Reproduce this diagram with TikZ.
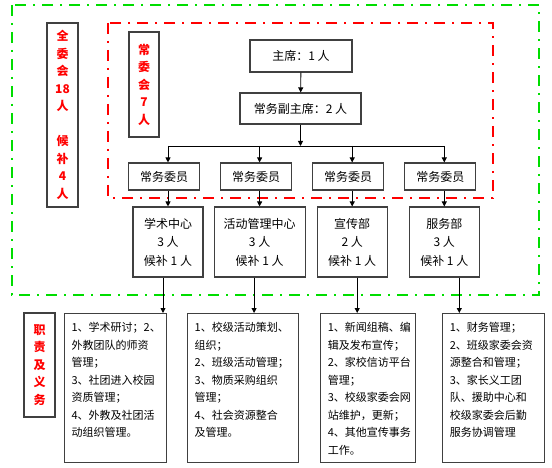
\documentclass[tikz,border=0pt]{standalone}
\usepackage{fontspec}
\setmainfont{Noto Sans CJK SC}
\usetikzlibrary{arrows.meta,positioning}
\definecolor{wkgreen}{HTML}{00DD00}
\definecolor{wkred}{HTML}{FF0000}
\definecolor{wkgrey}{HTML}{404040}

\begin{document}
\begin{tikzpicture}[x=1pt,y=-1pt,
  box/.style={draw=wkgrey,line width=1.1pt,align=center,
              font=\fontsize{12}{18.5}\selectfont,inner sep=2pt},
  vbox/.style={box,minimum width=31pt,text=wkred,
              font=\fontsize{12}{17.5}\selectfont\bfseries},
  duty/.style={draw=wkgrey,line width=1.1pt,align=left,anchor=north west,
              inner xsep=7pt,inner ysep=8pt,text height=10pt,text depth=123pt,
              font=\fontsize{11}{17.5}\selectfont},
  frame/.style={line width=2.5pt,dash pattern=on 11pt off 7pt on 2pt off 7pt},
  arr/.style={-{Triangle[length=5pt,width=5pt]},draw=black,line width=0.9pt},
  link/.style={draw=black,line width=0.9pt}]
\useasboundingbox (0,0) rectangle (552,468);

% frames
\draw[frame,draw=wkgreen] (12,5) rectangle (539,295);
\draw[frame,draw=wkred] (108,23) rectangle (493,198);

% side labels
\node[vbox,minimum height=184pt] (all) at (62.5,115) {全\\委\\会\\18\\人\\[17.5pt]候\\补\\4\\人};
\node[vbox,minimum width=30pt,minimum height=105pt] (sc) at (144,84.5) {常\\委\\会\\7\\人};
\node[vbox,minimum height=104pt] (resp) at (39.5,365) {职\\责\\及\\义\\务};

% standing committee
\node[box,minimum width=102pt,minimum height=32pt] (chair) at (301,56) {主席：1 人};
\node[box,minimum width=121pt,minimum height=31pt] (vp) at (300.5,108.5) {常务副主席：2 人};
\coordinate (br) at (300.5,146);
\node[box,minimum width=71pt,minimum height=27pt] (m1) at (164,176.5) {常务委员};
\node[box,minimum width=71pt,minimum height=27pt,right=20pt of m1] (m2) {常务委员};
\node[box,minimum width=71pt,minimum height=27pt,right=20pt of m2] (m3) {常务委员};
\node[box,minimum width=71pt,minimum height=27pt,right=20pt of m3] (m4) {常务委员};

% departments
\node[box,minimum width=70pt,minimum height=70pt] (d1) at (168,242) {学术中心\\3 人\\候补 1 人};
\node[box,minimum width=91pt,minimum height=70pt,right=10pt of d1] (d2) {活动管理中心\\3 人\\候补 1 人};
\node[box,minimum width=70pt,minimum height=70pt,right=11pt of d2] (d3) {宣传部\\2 人\\候补 1 人};
\node[box,minimum width=70pt,minimum height=70pt,right=21pt of d3] (d4) {服务部\\3 人\\候补 1 人};

% duties
\node[duty,text width=88pt] (r1) at (64,313)
  {1、学术研讨；2、\\外教团队的师资\\管理；\\3、社团进入校园\\资质管理；\\4、外教及社团活\\动组织管理。};
\node[duty,text width=97pt,right=20pt of r1] (r2)
  {1、校级活动策划、\\组织；\\2、班级活动管理；\\3、物质采购组织\\管理；\\4、社会资源整合\\及管理。};
\node[duty,text width=81pt,right=21pt of r2] (r3)
  {1、新闻组稿、编\\辑及发布宣传；\\2、家校信访平台\\管理；\\3、校级家委会网\\站维护，更新；\\4、其他宣传事务\\工作。};
\node[duty,text width=88pt,right=26pt of r3] (r4)
  {1、财务管理；\\2、班级家委会资\\源整合和管理；\\3、家长义工团\\队、援助中心和\\校级家委会后勤\\服务协调管理};

% connectors
\draw[arr] (chair) -- (vp);
\draw[arr] (vp) -- (br);
\draw[link] (d1 |- br) -- (d4 |- br);
\draw[arr] (d1 |- br) -- (d1 |- m1.north);
\draw[arr] (d2 |- br) -- (d2 |- m2.north);
\draw[arr] (d3 |- br) -- (d3 |- m3.north);
\draw[arr] (d4 |- br) -- (d4 |- m4.north);
\draw[arr] (d1 |- m1.south) -- (d1.north);
\draw[arr] (d2 |- m2.south) -- (d2.north);
\draw[arr] (d3 |- m3.south) -- (d3.north);
\draw[arr] (d4 |- m4.south) -- (d4.north);
\draw[arr] ([xshift=-5pt]d1.south) -- ([xshift=-5pt]d1.south |- r1.north);
\draw[arr] ([xshift=-5.5pt]d2.south) -- ([xshift=-5.5pt]d2.south |- r2.north);
\draw[arr] ([xshift=5pt]d3.south) -- ([xshift=5pt]d3.south |- r3.north);
\draw[arr] ([xshift=15pt]d4.south) -- ([xshift=15pt]d4.south |- r4.north);
\end{tikzpicture}
\end{document}
